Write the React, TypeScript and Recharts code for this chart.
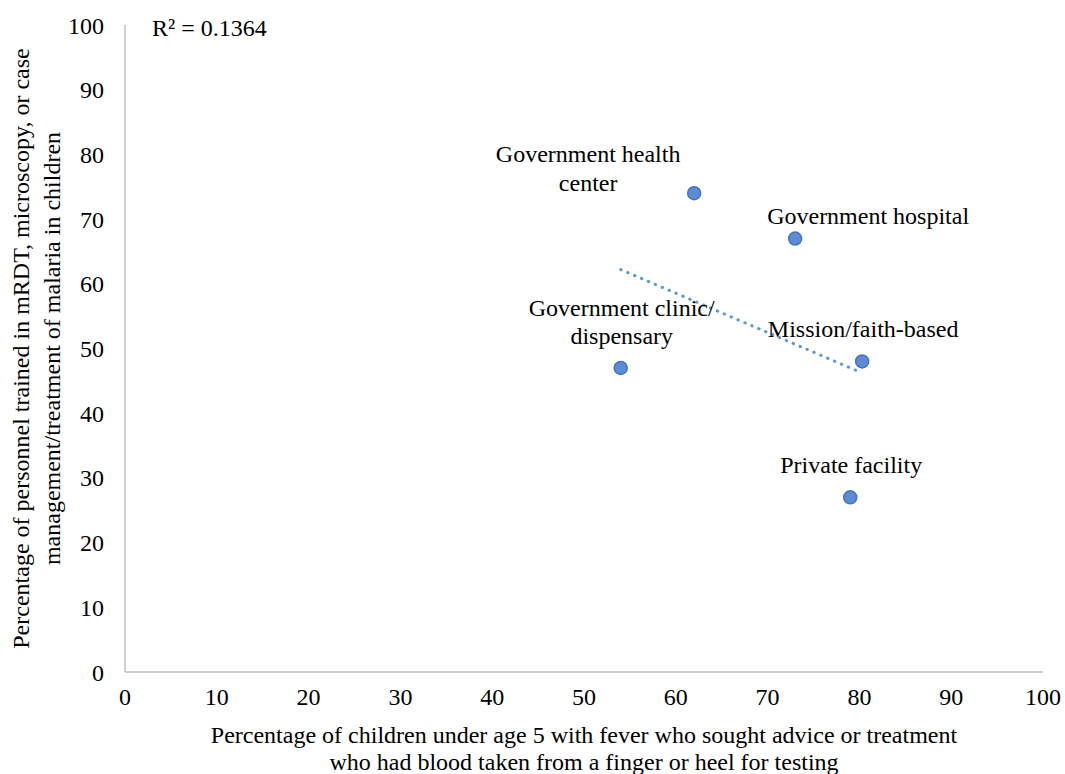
import { ScatterChart, Scatter, XAxis, YAxis, Customized } from "recharts";

const facilities = [
  "Government health center",
  "Government hospital",
  "Mission/faith-based",
  "Government clinic/dispensary",
  "Private facility",
];
const bloodTested = [62, 73, 80.3, 54, 79];
const personnelTrained = [74, 67, 48, 47, 27];
const trendX = [54, 80];
const trendY = [62.2, 46.4];
const xTicks = [0, 10, 20, 30, 40, 50, 60, 70, 80, 90, 100];
const yTicks = [0, 10, 20, 30, 40, 50, 60, 70, 80, 90, 100];

// label text lines + offset of first baseline from the marker centre
const labelLines: Record<string, string[]> = {
  "Government health center": ["Government health", "center"],
  "Government hospital": ["Government hospital"],
  "Mission/faith-based": ["Mission/faith-based"],
  "Government clinic/dispensary": ["Government clinic/", "dispensary"],
  "Private facility": ["Private facility"],
};
const labelOffset: Record<string, [number, number]> = {
  "Government health center": [-106, -31],
  "Government hospital": [73, -15],
  "Mission/faith-based": [1, -24],
  "Government clinic/dispensary": [1, -52],
  "Private facility": [1, -24],
};

const points = facilities.map((name, i) => ({
  name,
  x: bloodTested[i],
  y: personnelTrained[i],
}));
const trend = trendX.map((x, i) => ({ x, y: trendY[i] }));

const font = "'Liberation Serif', 'Times New Roman', serif";
const axisColor = "#bfbfbf";
const fs = 24;

function PointShape(props: any) {
  const { cx, cy, payload } = props;
  const lines = labelLines[payload.name] || [];
  const [dx, dy] = labelOffset[payload.name] || [0, -20];
  const lx = cx + dx;
  const ly = cy + dy;
  return (
    <g>
      <circle cx={cx} cy={cy} r={6.5} fill="#5b8dd0" stroke="#4472c4" strokeWidth={1.5} />
      <text x={lx} y={ly} textAnchor="middle" fontFamily={font} fontSize={fs} fill="#000">
        {lines.map((l, i) => (
          <tspan key={i} x={lx} dy={i === 0 ? 0 : 28.5}>
            {l}
          </tspan>
        ))}
      </text>
    </g>
  );
}

function YLabel(props: any) {
  const { viewBox } = props;
  const cy = viewBox.y + viewBox.height / 2;
  const x = 29;
  return (
    <text
      x={x}
      y={cy}
      transform={`rotate(-90 ${x} ${cy})`}
      textAnchor="middle"
      fontFamily={font}
      fontSize={fs}
      fill="#000"
    >
      <tspan x={x} dy={0}>
        Percentage of personnel trained in mRDT, microscopy, or case
      </tspan>
      <tspan x={x} dy={31}>
        management/treatment of malaria in children
      </tspan>
    </text>
  );
}

function XLabel(props: any) {
  const { viewBox } = props;
  const cx = viewBox.x + viewBox.width / 2;
  return (
    <text x={cx} y={743} textAnchor="middle" fontFamily={font} fontSize={fs} fill="#000">
      <tspan x={cx} dy={0}>
        Percentage of children under age 5 with fever who sought advice or treatment
      </tspan>
      <tspan x={cx} dy={27}>
        who had blood taken from a finger or heel for testing
      </tspan>
    </text>
  );
}

export default function App() {
  return (
    <div style={{ width: 1065, height: 774, background: "#fff" }}>
      <style>{"body{margin:0}"}</style>
      <ScatterChart
        width={1065}
        height={774}
        margin={{ top: 25, right: 22, left: 0, bottom: 0 }}
      >
        <XAxis
          type="number"
          dataKey="x"
          domain={[0, 100]}
          ticks={xTicks}
          height={102}
          tickLine={false}
          tickSize={0}
          tickMargin={16}
          axisLine={{ stroke: axisColor, strokeWidth: 1.5 }}
          tick={{ fill: "#000", fontSize: fs, fontFamily: font }}
          interval={0}
          label={{ content: XLabel }}
        />
        <YAxis
          type="number"
          dataKey="y"
          domain={[0, 100]}
          ticks={yTicks}
          width={125}
          tickLine={false}
          tickSize={0}
          tickMargin={21}
          axisLine={{ stroke: axisColor, strokeWidth: 1.5 }}
          tick={{ fill: "#000", fontSize: fs, fontFamily: font }}
          interval={0}
          label={{ content: YLabel }}
        />
        <Scatter
          data={trend}
          isAnimationActive={false}
          line={{ stroke: "#5b9bd5", strokeWidth: 3, strokeDasharray: "0.5 7", strokeLinecap: "round" }}
          shape={() => null}
        />
        <Scatter data={points} isAnimationActive={false} shape={PointShape} />
        <Customized
          component={() => (
            <text x={152} y={36} fontFamily={font} fontSize={fs} fill="#000">
              R² = 0.1364
            </text>
          )}
        />
      </ScatterChart>
    </div>
  );
}
